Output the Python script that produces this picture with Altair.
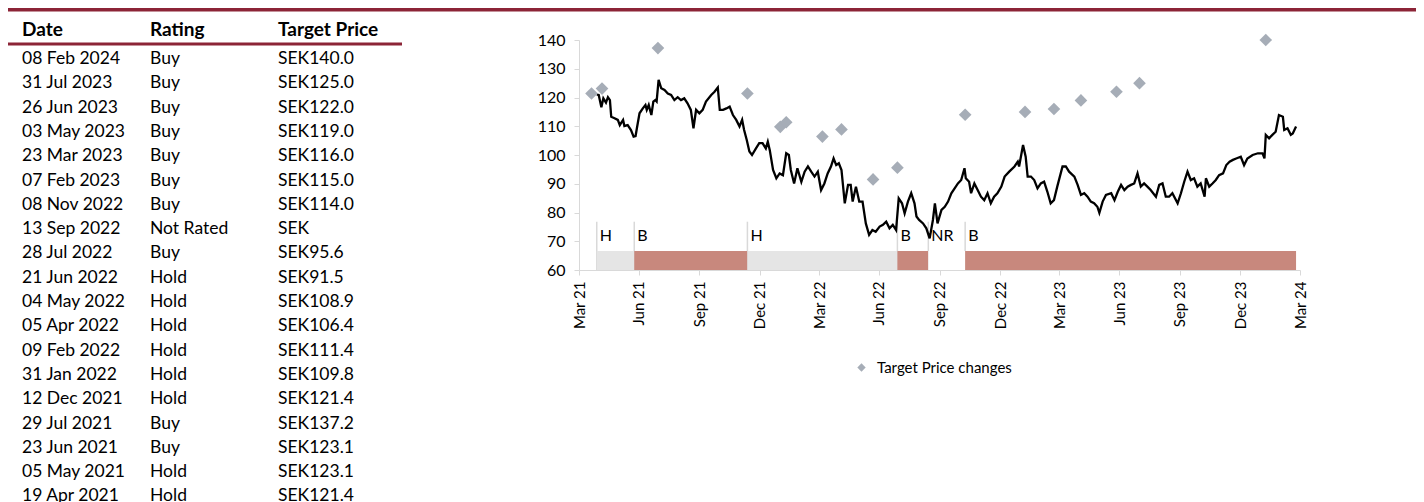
import altair as alt
import pandas as pd

FONT = "Lato"
RED = "#8C2437"
AXIS_GREY = "#D9D9D9"

# ---------------- table ----------------
tbl_dates = ["08 Feb 2024", "31 Jul 2023", "26 Jun 2023", "03 May 2023", "23 Mar 2023",
             "07 Feb 2023", "08 Nov 2022", "13 Sep 2022", "28 Jul 2022", "21 Jun 2022",
             "04 May 2022", "05 Apr 2022", "09 Feb 2022", "31 Jan 2022", "12 Dec 2021",
             "29 Jul 2021", "23 Jun 2021", "05 May 2021", "19 Apr 2021"]
tbl_ratings = ["Buy", "Buy", "Buy", "Buy", "Buy", "Buy", "Buy", "Not Rated", "Buy", "Hold",
               "Hold", "Hold", "Hold", "Hold", "Hold", "Buy", "Buy", "Hold", "Hold"]
tbl_prices = ["SEK140.0", "SEK125.0", "SEK122.0", "SEK119.0", "SEK116.0", "SEK115.0",
              "SEK114.0", "SEK", "SEK95.6", "SEK91.5", "SEK108.9", "SEK106.4", "SEK111.4",
              "SEK109.8", "SEK121.4", "SEK137.2", "SEK123.1", "SEK123.1", "SEK121.4"]
tbl_headers = ["Date", "Rating", "Target Price"]

# ---------------- target price changes ----------------
tp_dates = ["2021-04-19", "2021-05-05", "2021-07-29", "2021-12-12", "2022-01-31",
            "2022-02-09", "2022-04-05", "2022-05-04", "2022-06-21", "2022-07-28",
            "2022-11-08", "2023-02-07", "2023-03-23", "2023-05-03", "2023-06-26",
            "2023-07-31", "2024-02-08"]
tp_values = [121.4, 123.1, 137.2, 121.4, 109.8, 111.4, 106.4, 108.9, 91.5, 95.6,
             114.0, 115.0, 116.0, 119.0, 122.0, 125.0, 140.0]

# ---------------- rating periods ----------------
rating_starts = ["2021-04-27", "2021-06-23", "2021-12-12", "2022-07-28", "2022-09-13", "2022-11-08"]
rating_codes = ["H", "B", "H", "B", "NR", "B"]
rating_end = "2024-03-25"

# ---------------- share price ----------------
price_dates = [
    "2021-04-27", "2021-04-30", "2021-05-04", "2021-05-07", "2021-05-11", "2021-05-14", "2021-05-17",
    "2021-05-19", "2021-05-24", "2021-05-29", "2021-06-01", "2021-06-06", "2021-06-08", "2021-06-13",
    "2021-06-18", "2021-06-22", "2021-06-25", "2021-06-27", "2021-07-01", "2021-07-06", "2021-07-10",
    "2021-07-12", "2021-07-15", "2021-07-19", "2021-07-22", "2021-07-25", "2021-07-27", "2021-07-30",
    "2021-08-03", "2021-08-08", "2021-08-13", "2021-08-18", "2021-08-23", "2021-08-28", "2021-09-02",
    "2021-09-07", "2021-09-12", "2021-09-17", "2021-09-21", "2021-09-25", "2021-09-30", "2021-10-05",
    "2021-10-10", "2021-10-18", "2021-10-23", "2021-10-28", "2021-10-31", "2021-11-05", "2021-11-10",
    "2021-11-15", "2021-11-20", "2021-11-25", "2021-11-30", "2021-12-04", "2021-12-07", "2021-12-11",
    "2021-12-15", "2021-12-19", "2021-12-25", "2021-12-30", "2022-01-04", "2022-01-09", "2022-01-12",
    "2022-01-15", "2022-01-20", "2022-01-25", "2022-01-30", "2022-02-04", "2022-02-09", "2022-02-13",
    "2022-02-16", "2022-02-21", "2022-02-26", "2022-03-04", "2022-03-09", "2022-03-14", "2022-03-19",
    "2022-03-24", "2022-03-29", "2022-04-03", "2022-04-08", "2022-04-13", "2022-04-18", "2022-04-22",
    "2022-04-26", "2022-04-30", "2022-05-04", "2022-05-09", "2022-05-14", "2022-05-18", "2022-05-21",
    "2022-05-26", "2022-05-31", "2022-06-05", "2022-06-10", "2022-06-15", "2022-06-20", "2022-06-25",
    "2022-07-01", "2022-07-06", "2022-07-11", "2022-07-16", "2022-07-21", "2022-07-26", "2022-07-30",
    "2022-08-04", "2022-08-08", "2022-08-13", "2022-08-18", "2022-08-23", "2022-08-26", "2022-08-30",
    "2022-09-05", "2022-09-10", "2022-09-15", "2022-09-20", "2022-09-23", "2022-09-27", "2022-10-03",
    "2022-10-08", "2022-10-13", "2022-10-18", "2022-10-23", "2022-10-28", "2022-11-02", "2022-11-07",
    "2022-11-09", "2022-11-14", "2022-11-17", "2022-11-22", "2022-11-27", "2022-12-02", "2022-12-07",
    "2022-12-12", "2022-12-17", "2022-12-22", "2022-12-27", "2023-01-02", "2023-01-07", "2023-01-14",
    "2023-01-22", "2023-01-27", "2023-01-29", "2023-02-04", "2023-02-08", "2023-02-11", "2023-02-16",
    "2023-02-21", "2023-02-26", "2023-03-03", "2023-03-08", "2023-03-13", "2023-03-18", "2023-03-23",
    "2023-03-28", "2023-04-05", "2023-04-10", "2023-04-15", "2023-04-23", "2023-04-28", "2023-05-03",
    "2023-05-08", "2023-05-13", "2023-05-18", "2023-05-23", "2023-05-28", "2023-05-31", "2023-06-05",
    "2023-06-10", "2023-06-18", "2023-06-23", "2023-06-28", "2023-07-03", "2023-07-08", "2023-07-13",
    "2023-07-18", "2023-07-23", "2023-07-28", "2023-08-02", "2023-08-07", "2023-08-12", "2023-08-17",
    "2023-08-25", "2023-08-30", "2023-09-04", "2023-09-09", "2023-09-14", "2023-09-19", "2023-09-27",
    "2023-10-02", "2023-10-07", "2023-10-12", "2023-10-17", "2023-10-22", "2023-10-27", "2023-11-01",
    "2023-11-07", "2023-11-09", "2023-11-14", "2023-11-19", "2023-11-24", "2023-11-29", "2023-12-05",
    "2023-12-10", "2023-12-15", "2023-12-20", "2023-12-25", "2024-01-01", "2024-01-06", "2024-01-11",
    "2024-01-19", "2024-01-27", "2024-02-03", "2024-02-06", "2024-02-08", "2024-02-13", "2024-02-18",
    "2024-02-23", "2024-02-28", "2024-03-05", "2024-03-07", "2024-03-12", "2024-03-17", "2024-03-20",
    "2024-03-25"]
price_values = [
    121.0, 120.9, 116.6, 119.7, 118.2, 120.1, 119.1,
    113.3, 112.8, 112.2, 110.4, 112.2, 110.1, 110.4,
    108.7, 106.4, 106.6, 109.3, 114.5, 116.2, 117.4,
    115.7, 117.4, 113.9, 118.6, 119.1, 118.6, 126.1,
    123.2, 122.6, 121.4, 120.9, 119.1, 120.1, 119.1,
    119.7, 118.0, 115.7, 109.3, 115.7, 114.5, 115.7,
    118.6, 120.9, 122.0, 123.5, 115.7, 115.7, 116.2,
    116.8, 113.9, 112.2, 109.9, 112.2, 108.7, 105.2,
    101.2, 100.0, 102.3, 104.1, 104.1, 102.3, 104.6,
    101.7, 94.8, 91.9, 93.6, 93.0, 100.6, 100.0,
    94.8, 90.1, 95.4, 90.7, 94.2, 96.0, 94.2,
    92.5, 94.2, 87.8, 90.1, 93.6, 96.0, 98.8,
    96.5, 97.1, 94.8, 83.2, 89.6, 89.6, 83.8,
    89.0, 83.8, 83.8, 76.2, 72.2, 73.9, 73.3,
    75.1, 75.7, 76.8, 74.5, 75.7, 73.9, 84.9,
    83.2, 79.7, 83.8, 86.7, 83.2, 78.6, 77.4,
    76.2, 74.5, 71.0, 77.4, 83.2, 76.2, 80.9,
    82.0, 83.8, 86.7, 88.4, 90.1, 91.3, 95.4,
    91.9, 90.7, 86.7, 90.1, 87.8, 85.5, 84.3,
    86.7, 83.2, 85.5, 86.7, 89.0, 92.5, 94.2,
    96.0, 97.7, 96.0, 103.5, 99.4, 92.5, 92.5,
    91.3, 88.4, 90.1, 90.7, 87.2, 83.2, 84.3,
    89.0, 96.0, 96.0, 94.2, 92.5, 89.6, 86.1,
    86.7, 85.5, 83.8, 83.2, 82.0, 79.9, 83.8,
    86.1, 86.7, 84.3, 87.2, 89.6, 87.8, 89.0,
    89.6, 90.1, 93.6, 89.0, 90.1, 89.0, 87.8,
    85.5, 89.6, 90.1, 85.5, 85.5, 86.7, 83.2,
    86.7, 90.7, 94.2, 91.3, 91.9, 89.0, 90.1,
    85.5, 91.9, 89.0, 90.1, 91.3, 93.0, 93.6,
    96.5, 97.7, 98.3, 98.8, 99.4, 96.5, 98.8,
    100.0, 100.6, 100.6, 98.8, 107.0, 105.8, 107.0,
    108.1, 113.9, 113.3, 108.7, 109.3, 107.0, 107.5,
    109.9]

# ---------------- axis ticks ----------------
axis_start = "2021-03-31"
axis_end = "2024-03-31"
tick_dates = ["2021-03-31", "2021-06-30", "2021-09-30", "2021-12-31", "2022-03-31",
              "2022-06-30", "2022-09-30", "2022-12-31", "2023-03-31", "2023-06-30",
              "2023-09-30", "2023-12-31", "2024-03-31"]
y_ticks = [60, 70, 80, 90, 100, 110, 120, 130, 140]
band_bottom, band_top = 60, 66.6
divider_top = 76.8
label_level = 71.7


def ms(s):
    return int(pd.Timestamp(s, tz="UTC").timestamp() * 1000)


price_df = pd.DataFrame({"date": price_dates, "price": price_values})
tp_df = pd.DataFrame({"date": tp_dates, "tp": tp_values, "series": "Target Price changes"})
rating_df = pd.DataFrame({
    "start": rating_starts,
    "end": rating_starts[1:] + [rating_end],
    "code": rating_codes,
})
table_df = pd.DataFrame({"row": list(range(len(tbl_dates))), "date": tbl_dates,
                         "rating": tbl_ratings, "price": tbl_prices})
one = pd.DataFrame({"k": [0]})

x_scale = alt.Scale(type="utc", domain=[ms(axis_start), ms(axis_end)])
x_axis = alt.Axis(values=[ms(d) for d in tick_dates],
                  labelExpr="utcFormat(datum.value, '%b %y')",
                  labelAngle=-90, title=None, grid=False, domainColor=AXIS_GREY,
                  tickColor=AXIS_GREY, tickSize=5, labelPadding=6, labelFont=FONT,
                  labelFontSize=15, labelColor="black")
y_scale = alt.Scale(domain=[60, 140], nice=False, zero=False)
y_axis = alt.Axis(values=y_ticks, title=None, grid=False, domainColor=AXIS_GREY,
                  tickColor=AXIS_GREY, tickSize=5, labelPadding=9, labelFont=FONT,
                  labelFontSize=16, labelColor="black")


def X(field):
    return alt.X(field, scale=x_scale, axis=x_axis)


def Yq(field):
    return alt.Y(field, scale=y_scale, axis=y_axis)


dividers = alt.Chart(rating_df).mark_rule(color=AXIS_GREY, strokeWidth=1.5).encode(
    x=X("start:T"), y=alt.Y(datum=band_bottom, scale=y_scale, axis=y_axis),
    y2=alt.Y2(datum=divider_top))

bands = alt.Chart(rating_df).mark_rect().encode(
    x=X("start:T"), x2="end:T",
    y=alt.Y(datum=band_bottom, scale=y_scale, axis=y_axis), y2=alt.Y2(datum=band_top),
    color=alt.Color("code:N", scale=alt.Scale(domain=["H", "B", "NR"],
                                              range=["#E5E5E5", "#C8887D", "#FFFFFF"]),
                    legend=None))

band_labels = alt.Chart(rating_df).mark_text(
    align="left", baseline="middle", dx=3, font=FONT, fontSize=16, color="black").encode(
    x=X("start:T"), y=alt.Y(datum=label_level, scale=y_scale, axis=y_axis), text="code:N")

line = alt.Chart(price_df).mark_line(color="black", strokeWidth=2.3).encode(
    x=X("date:T"), y=Yq("price:Q"))

leg = alt.Legend(title=None, orient="none", legendX=275, legendY=320, labelFont=FONT,
                 labelFontSize=15, labelColor="black", symbolSize=70, symbolType="diamond",
                 labelOffset=8)
diamonds = alt.Chart(tp_df).mark_point(filled=True, size=160, opacity=1).encode(
    x=X("date:T"), y=Yq("tp:Q"),
    color=alt.Color("series:N", scale=alt.Scale(range=["#A6ADB7"]), legend=leg),
    shape=alt.Shape("series:N", scale=alt.Scale(range=["diamond"]), legend=leg))

plot = alt.layer(dividers, bands, band_labels, line, diamonds).resolve_scale(
    color="independent", shape="independent")

row_scale = alt.Scale(domain=[0, len(tbl_dates) - 1], range=[19, 19 + 24.3 * (len(tbl_dates) - 1)])
col_x = [-557, -429, -301]
tbl_base = alt.Chart(table_df).mark_text(align="left", baseline="middle", font=FONT,
                                         fontSize=17.5, color="black")
table = alt.layer(
    tbl_base.encode(x=alt.value(col_x[0]), y=alt.Y("row:Q", scale=row_scale, axis=None), text="date:N"),
    tbl_base.encode(x=alt.value(col_x[1]), y=alt.Y("row:Q", scale=row_scale, axis=None), text="rating:N"),
    tbl_base.encode(x=alt.value(col_x[2]), y=alt.Y("row:Q", scale=row_scale, axis=None), text="price:N"),
)

headers = [
    alt.Chart(one).mark_text(align="left", baseline="middle", font=FONT, fontSize=19,
                             fontWeight="bold", color="black", text=h).encode(
        x=alt.value(cx), y=alt.value(-10))
    for h, cx in zip(tbl_headers, col_x)
]

header_rule = alt.Chart(one).mark_rule(color=RED, strokeWidth=3).encode(
    x=alt.value(-571), x2=alt.value(-177), y=alt.value(4))
top_bar = alt.Chart(one).mark_rule(color=RED, strokeWidth=5).encode(
    x=alt.value(-571), x2=alt.value(837), y=alt.value(-31))

chart = alt.layer(plot, table, *headers, header_rule, top_bar).resolve_scale(
    y="independent"
).properties(
    width=721, height=230,
    padding={"left": 571, "top": 32, "right": 116, "bottom": 232},
    autosize=alt.AutoSizeParams(type="none"),
).configure_view(strokeWidth=0)

chart.save("out.html", embed_options={"renderer": "svg", "actions": False})
